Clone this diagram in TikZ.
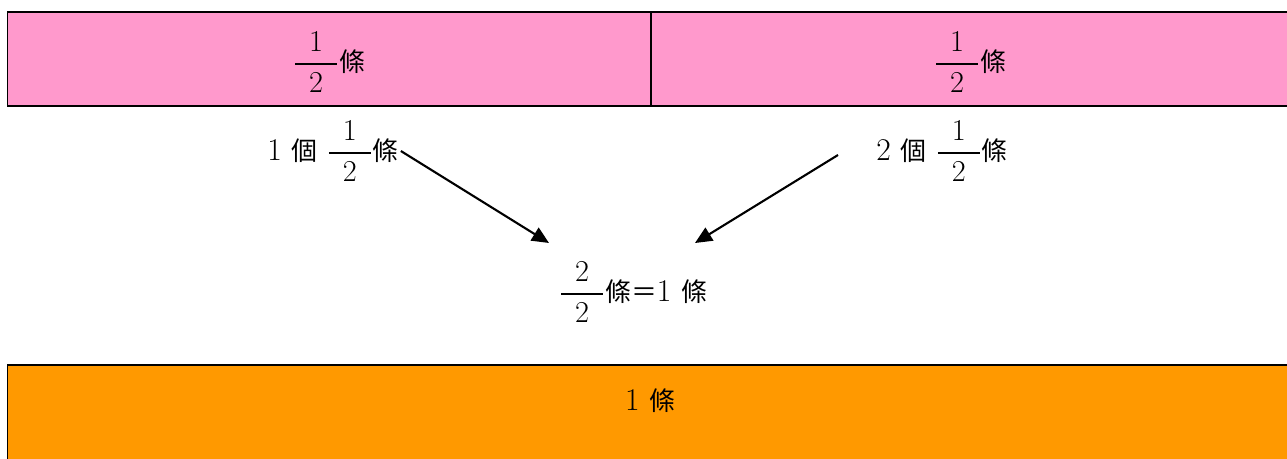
\documentclass[tikz,border=0pt]{standalone}
\usepackage{amsmath}
\usepackage{fontspec}
\usepackage{tikz}
\usetikzlibrary{arrows.meta, positioning}
\newfontfamily\cjk{Noto Sans CJK TC}[Scale=0.82]
\definecolor{barpink}{HTML}{FF99CC}
\definecolor{barorange}{HTML}{FF9900}
% fraction with a wide bar, as in the picture
\newcommand{\halfof}[2]{\ensuremath{\displaystyle\genfrac{}{}{0.7pt}{}{\hphantom{0}#1\hphantom{0}\rule[-0.4ex]{0pt}{0pt}}{\hphantom{0}#2\hphantom{0}}}}
\newcommand{\zh}[1]{{\cjk #1}}

\begin{document}
\begin{tikzpicture}[x=0.02cm, y=-0.02cm,
  bar/.style={draw=black, line width=1.1pt},
  lbl/.style={inner sep=1pt, font=\fontsize{18}{21}\selectfont},
  arr/.style={-{Triangle[length=3.4mm, width=3mm]}, line width=1.2pt}
]
  \useasboundingbox (0,0) rectangle (1287,459);
  \clip (0,0) rectangle (1287,459);
  % strips
  \path[bar, fill=barpink] (7.5,12) rectangle (651,106);
  \path[bar, fill=barpink] (651,12) rectangle (1310,106);
  \path[bar, fill=barorange] (7.5,365) rectangle (1310,480);
  \node[lbl] (halfL) at (329,62) {\halfof{1}{2}\zh{條}};
  \node[lbl] (halfR) at (970,62) {\halfof{1}{2}\zh{條}};
  \node[lbl] (whole) at (650,401) {1 \zh{條}};
  % counting
  \node[lbl] (oneHalf) at (333,151) {1 \zh{個} \halfof{1}{2}\zh{條}};
  \node[lbl] (twoHalf) at (942,151) {2 \zh{個} \halfof{1}{2}\zh{條}};
  \node[lbl] (sum) at (633,292) {\halfof{2}{2}\zh{條＝}1 \zh{條}};
  \coordinate (tailR) at (838,155);
  \coordinate (headL) at (549,243);
  \coordinate (headR) at (695,243);
  \draw[arr] (oneHalf.east) -- (headL);
  \draw[arr] (tailR) -- (headR);
\end{tikzpicture}
\end{document}
